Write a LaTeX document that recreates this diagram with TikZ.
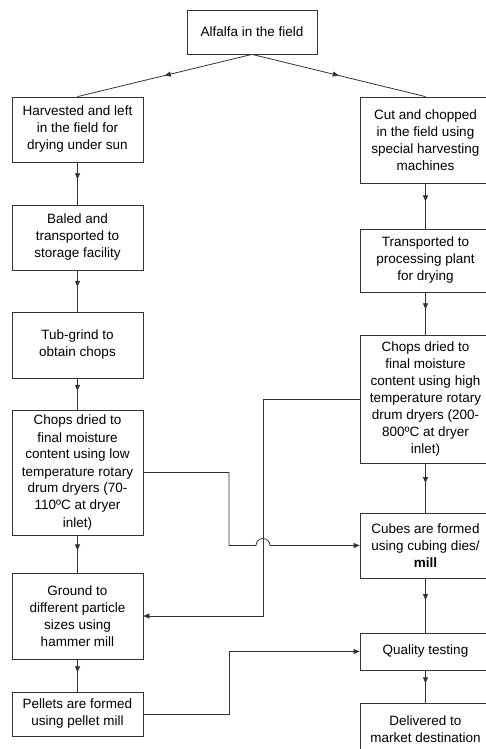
\documentclass[tikz,border=0pt]{standalone}
\usepackage{fontspec}
\setmainfont{Liberation Sans}
\usetikzlibrary{arrows.meta, positioning, calc, decorations.markings}
\definecolor{ink}{HTML}{333333}

\tikzset{
  stepbox/.style={draw=ink, line width=0.8pt, align=center, inner sep=2pt,
    font=\fontsize{13.5}{17}\selectfont},
  flow/.style={draw=ink, line width=0.8pt},
  midtip/.style={flow, postaction={decorate}, decoration={markings,
    mark=at position #1 with {\arrow{Triangle[length=6pt,width=5pt]}}}},
  endtip/.style={flow, -{Triangle[length=6pt,width=5pt]}},
}

\begin{document}
\begin{tikzpicture}[x=1pt, y=-1pt]
    \useasboundingbox (0,0) rectangle (485,749);

    \node[stepbox, minimum width=130pt, minimum height=44pt] (field) at (252,32) {Alfalfa in the field};

    % left branch
    \node[stepbox, minimum width=131pt, minimum height=65pt] (harvest) at (77.5,129.5) {Harvested and left\\in the field for\\drying under sun};
    \node[stepbox, minimum width=131pt, minimum height=65pt] (bale) at (77.5,237.5) {Baled and\\transported to\\storage facility};
    \node[stepbox, minimum width=131pt, minimum height=66pt] (tub) at (77.5,345) {Tub-grind to\\obtain chops};
    \node[stepbox, minimum width=131pt, minimum height=125pt] (lowdry) at (77.5,472.5) {Chops dried to\\final moisture\\content using low\\temperature rotary\\drum dryers (70-\\110ºC at dryer\\inlet)};
    \node[stepbox, minimum width=131pt, minimum height=86pt] (ground) at (77.5,616) {Ground to\\different particle\\sizes using\\hammer mill};
    \node[stepbox, minimum width=131pt, minimum height=44pt] (pellet) at (77.5,714) {Pellets are formed\\using pellet mill};

    % right branch
    \node[stepbox, minimum width=131pt, minimum height=86pt] (cut) at (425.5,140) {Cut and chopped\\in the field using\\special harvesting\\machines};
    \node[stepbox, minimum width=131pt, minimum height=63pt] (transport) at (425.5,260.5) {Transported to\\processing plant\\for drying};
    \node[stepbox, minimum width=131pt, minimum height=128pt] (highdry) at (425.5,399) {Chops dried to\\final moisture\\content using high\\temperature rotary\\drum dryers (200-\\800ºC at dryer\\inlet)};
    \node[stepbox, minimum width=131pt, minimum height=65pt] (cubes) at (425.5,545.5) {Cubes are formed\\using cubing dies/\\\textbf{mill}};
    \node[stepbox, minimum width=131pt, minimum height=37pt] (quality) at (425.5,651.5) {Quality testing};
    \node[stepbox, minimum width=131pt, minimum height=52pt] (deliver) at (425.5,729) {Delivered to\\market destination};

    \coordinate (busL) at (229,0);
    \coordinate (busR) at (263,0);

    \draw[midtip=0.5] (field.south) -- (harvest.north);
    \draw[midtip=0.5] (field.south) -- (cut.north);

    \draw[midtip=0.4] (harvest) -- (bale);
    \draw[midtip=0.4] (bale) -- (tub);
    \draw[midtip=0.4] (tub) -- (lowdry);
    \draw[midtip=0.4] (lowdry) -- (ground);
    \draw[midtip=0.4] (ground) -- (pellet);

    \draw[midtip=0.4] (cut) -- (transport);
    \draw[midtip=0.4] (transport) -- (highdry);
    \draw[midtip=0.4] (highdry) -- (cubes);
    \draw[midtip=0.4] (cubes) -- (quality);
    \draw[midtip=0.4] (quality) -- (deliver);

    % cross links
    \draw[endtip] (highdry.west) -| (busR |- ground.east) -- (ground.east);
    \draw[endtip] (lowdry.east) -| (busL |- cubes.west)
      -- ($(busR |- cubes.west)+(-7pt,0)$) arc[start angle=180, end angle=0, radius=7pt]
      -- (cubes.west);
    \draw[endtip] (pellet.east) -| (busL |- quality.west) -- (quality.west);
\end{tikzpicture}
\end{document}
